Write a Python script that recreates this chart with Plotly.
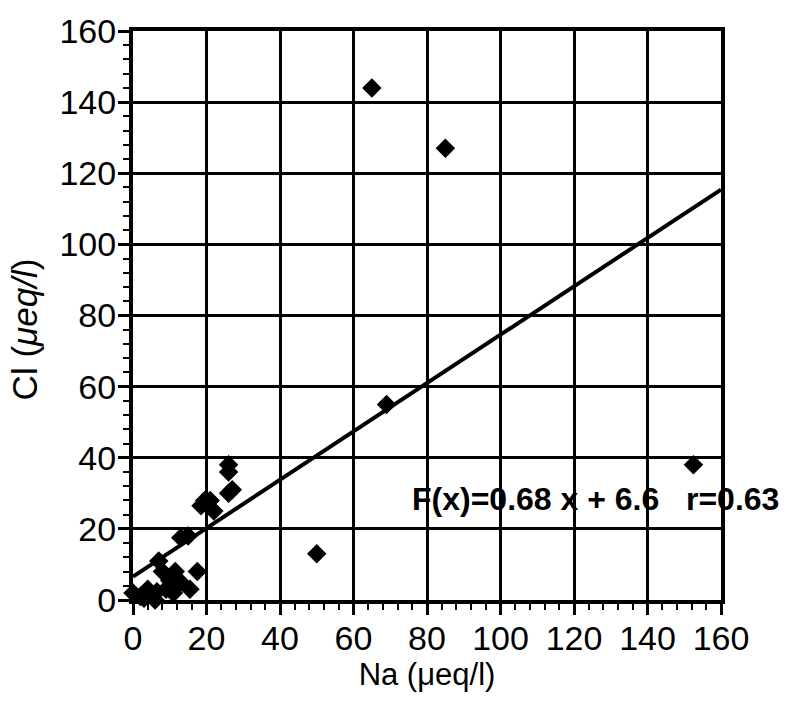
import plotly.graph_objects as go

na = [65, 85, 69, 152.5, 50,
      26, 26, 27, 26, 19.5, 18.5, 21, 22, 15, 13, 17.5, 7, 11.5, 10, 15.5,
      0, 4, 0, 4.5, 9, 6.5, 13, 8, 2, 6, 11, 9, 3]
cl = [144, 127, 55, 38, 13,
      38, 36, 31, 30, 28, 26.5, 28, 25, 18, 17.5, 8, 11, 8, 5.5, 3,
      2, 3, -1, -1, -1, 2.3, 5, 8, 1, 0, 2, 3, 0.5]

slope = 0.68
intercept = 6.6
fit_x = [0, 160]
fit_y = [slope * v + intercept for v in fit_x]

tick_vals = [0, 20, 40, 60, 80, 100, 120, 140, 160]
tick_text = [str(v) for v in tick_vals]

font_family = "Liberation Sans, Arial, Helvetica, sans-serif"

fig = go.Figure()
fig.add_trace(go.Scatter(x=fit_x, y=fit_y, mode="lines",
                         line=dict(color="black", width=4),
                         showlegend=False, cliponaxis=False, hoverinfo="skip"))
fig.add_trace(go.Scatter(x=na, y=cl, mode="markers",
                         marker=dict(symbol="diamond", size=15, color="black",
                                     line=dict(width=0)),
                         showlegend=False, cliponaxis=False))

axis_common = dict(
    range=[0, 160], tickvals=tick_vals, ticktext=tick_text,
    showgrid=True, gridcolor="black", gridwidth=3,
    showline=True, linecolor="black", linewidth=4, mirror=True,
    zeroline=False,
    ticks="outside", ticklen=11, tickwidth=3, tickcolor="black",
    minor=dict(dtick=4, tick0=0, ticks="outside", ticklen=6, tickwidth=2,
               tickcolor="black", showgrid=False),
    tickfont=dict(family=font_family, size=34, color="black"),
    fixedrange=True,
)

fig.update_xaxes(**axis_common, ticklabelstandoff=-6,
                 title=dict(text="Na (μeq/l)", font=dict(family=font_family, size=31, color="black"),
                            standoff=8))
fig.update_yaxes(**axis_common, ticklabelstandoff=-5)

fig.add_annotation(x=-0.185, y=0.476, xref="paper", yref="paper",
                   xanchor="center", yanchor="middle", textangle=-90,
                   text="Cl (<i>μeq/l</i>)", showarrow=False,
                   font=dict(family=font_family, size=35, color="black"))

fig.add_annotation(x=75.5, y=28.5, xref="x", yref="y", xanchor="left", yanchor="middle",
                   text="<b>F(x)=0.68 x + 6.6&nbsp;&nbsp;&nbsp;r=0.63</b>",
                   showarrow=False,
                   font=dict(family=font_family, size=32, color="black"))

fig.update_layout(
    width=789, height=703,
    margin=dict(l=133, r=68, t=22, b=103),
    paper_bgcolor="white", plot_bgcolor="white",
    font=dict(family=font_family, color="black"),
)

fig.write_html("out.html")
